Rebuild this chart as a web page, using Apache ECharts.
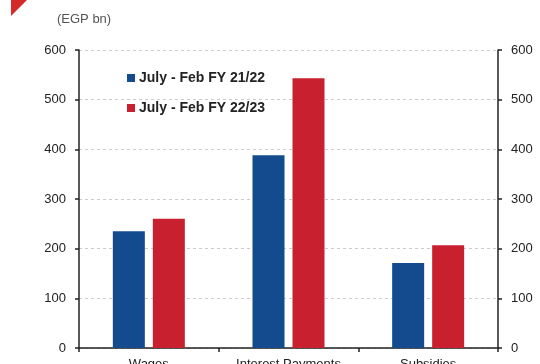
<!DOCTYPE html>
<html>
<head>
<meta charset="utf-8">
<script src="https://cdn.jsdelivr.net/npm/echarts@6/dist/echarts.min.js"></script>
<style>html,body{margin:0;padding:0;background:#fff;}#c{width:540px;height:364px;}</style>
</head>
<body>
<div id="c"></div>
<script>
const categories = ['Wages', 'Interest Payments', 'Subsidies'];
const seriesNames = ['July - Feb FY 21/22', 'July - Feb FY 22/23'];
const fy2122 = [235, 388, 171];
const fy2223 = [260, 543, 207];
const yTicks = [0, 100, 200, 300, 400, 500, 600];

const chart = echarts.init(document.getElementById('c'));
const axisLineStyle = { color: '#222', width: 1.5 };
const yAxisCommon = {
  type: 'value', min: yTicks[0], max: yTicks[yTicks.length - 1], interval: yTicks[1] - yTicks[0],
  axisLine: { show: true, lineStyle: axisLineStyle },
  axisTick: { show: true, length: 4, lineStyle: axisLineStyle },
  axisLabel: { color: '#222', fontSize: 13, margin: 13, fontFamily: 'Liberation Sans, Arial' }
};
chart.setOption({
  animation: false,
  textStyle: { fontFamily: 'Liberation Sans, Arial' },
  graphic: [
    { type: 'polygon', shape: { points: [[11, 0], [27, 0], [11, 16]] }, style: { fill: '#d42a2a' } },
    { type: 'text', left: 57, top: 13, style: { text: '(EGP bn)', fill: '#555', fontSize: 13, fontFamily: 'Liberation Sans, Arial' } }
  ],
  grid: { left: 79, right: 42, top: 50, bottom: 16, containLabel: false, outerBoundsMode: 'none' },
  legend: {
    orient: 'vertical', left: 122, top: 66, itemGap: 16,
    itemWidth: 8, itemHeight: 8, icon: 'rect',
    textStyle: { color: '#222', fontSize: 14, fontWeight: 'bold', padding: [0, 0, 0, -1] },
    data: seriesNames
  },
  xAxis: {
    type: 'category', data: categories,
    axisLine: { lineStyle: axisLineStyle },
    axisTick: { show: true, length: 4, lineStyle: axisLineStyle },
    axisLabel: { color: '#222', fontSize: 13, margin: 10 }
  },
  yAxis: [
    Object.assign({}, yAxisCommon, {
      position: 'left',
      splitLine: { show: true, lineStyle: { color: '#ccc', type: [3, 3], width: 1 } }
    }),
    Object.assign({}, yAxisCommon, { position: 'right', splitLine: { show: false } })
  ],
  series: [
    { name: seriesNames[0], type: 'bar', data: fy2122, barWidth: 32, barGap: '25%', itemStyle: { color: '#134b8e' } },
    { name: seriesNames[1], type: 'bar', data: fy2223, barWidth: 32, barGap: '25%', itemStyle: { color: '#c9202f' } }
  ]
});
</script>
</body>
</html>
